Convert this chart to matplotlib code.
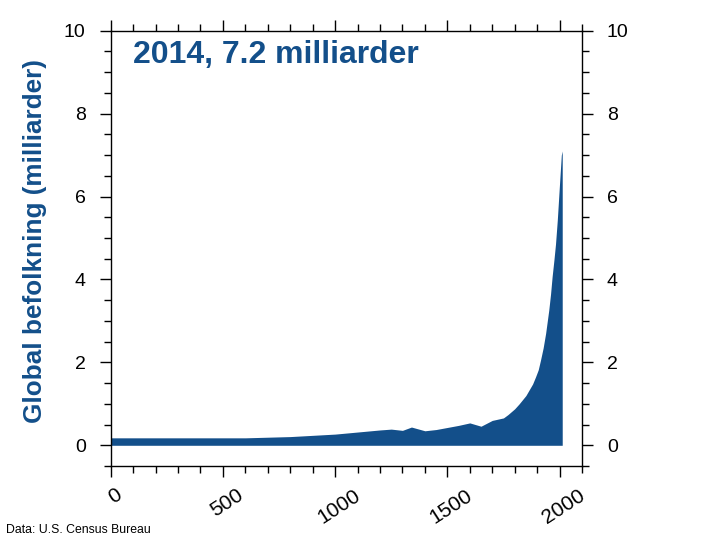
import matplotlib
matplotlib.use('Agg')
import matplotlib.pyplot as plt
from matplotlib.ticker import MultipleLocator
from matplotlib.transforms import ScaledTranslation

plt.rcParams['font.family'] = ['Liberation Sans', 'DejaVu Sans']

# world population estimates (billions)
years = [0, 200, 400, 600, 800, 900, 1000, 1060, 1100, 1200, 1250, 1300, 1340, 1400,
         1450, 1500, 1550, 1600, 1650, 1700, 1750, 1770, 1800, 1820, 1850, 1865,
         1880, 1893, 1905, 1915, 1927, 1938, 1952, 1960, 1967, 1975, 1982, 1990,
         2001, 2008, 2012]
pop = [0.18, 0.18, 0.18, 0.18, 0.21, 0.24, 0.27, 0.30, 0.32, 0.37, 0.39, 0.36, 0.44, 0.35,
       0.38, 0.43, 0.48, 0.54, 0.46, 0.60, 0.66, 0.74, 0.88, 1.00, 1.20, 1.34,
       1.48, 1.65, 1.82, 2.05, 2.35, 2.70, 3.26, 3.65, 4.07, 4.47, 4.85, 5.43,
       6.40, 7.00, 7.10]

ytick_vals = [0, 2, 4, 6, 8, 10]
xtick_vals = [0, 500, 1000, 1500, 2000]

blue = '#134f8a'

fig = plt.figure(figsize=(7.2, 5.4), dpi=100)
ax = fig.add_axes([0.1538, 0.137, 0.6545, 0.8061])

ax.fill_between(years, 0, pop, color=blue, linewidth=0)

ax.set_xlim(0, 2100)
ax.set_ylim(-0.5, 10)
ax.set_xticks(xtick_vals)
ax.set_yticks(ytick_vals)
ax.xaxis.set_minor_locator(MultipleLocator(100))
ax.yaxis.set_minor_locator(MultipleLocator(0.5))

ax.tick_params(which='both', direction='out', top=True, right=True,
               labelright=True, width=1, color='black')
ax.tick_params(which='major', length=8)
ax.tick_params(which='minor', length=5)
ax.tick_params(axis='y', labelsize=14, pad=10)
ax.tick_params(axis='x', labelsize=15, pad=6)

# rotated year labels, nudged a little to the right like the original
nudge = ScaledTranslation(4 / 100, 0, fig.dpi_scale_trans)
for lab in ax.get_xticklabels():
    lab.set_rotation(33)
    lab.set_ha('center')
    lab.set_va('top')
    lab.set_transform(lab.get_transform() + nudge)

for s in ax.spines.values():
    s.set_linewidth(1)

ax.text(0.047, 0.944, '2014, 7.2 milliarder', transform=ax.transAxes,
        fontsize=23, fontweight='bold', color=blue, ha='left', va='center')

fig.text(0.049, 0.554, 'Global befolkning (milliarder)', rotation=90,
         fontsize=18.8, fontweight='bold', color=blue, ha='center', va='center')

fig.text(0.008, 0.018, 'Data: U.S. Census Bureau', fontsize=8.8, ha='left', va='center')

fig.savefig('out.png', dpi=100)
